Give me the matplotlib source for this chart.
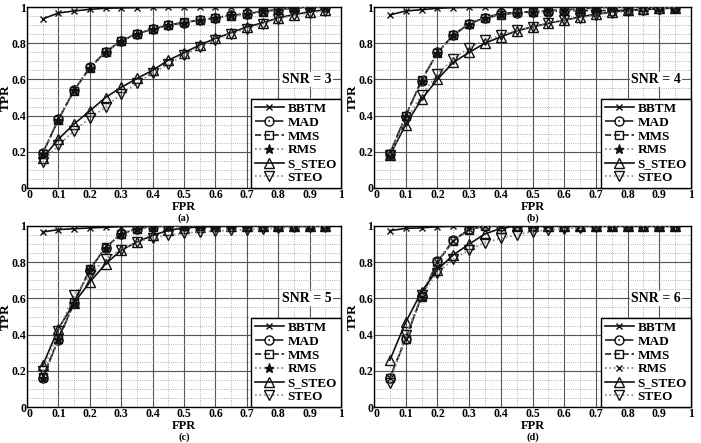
import numpy as np
import matplotlib
matplotlib.use("Agg")
import matplotlib.pyplot as plt
from matplotlib.ticker import MultipleLocator, FuncFormatter

plt.rcParams['font.family'] = ['Liberation Serif', 'DejaVu Serif']
plt.rcParams['font.weight'] = 'bold'
plt.rcParams['axes.labelweight'] = 'bold'

# -------------------------------
# data
# -------------------------------
fpr = [0.05, 0.10, 0.15, 0.20, 0.25, 0.30, 0.35, 0.40, 0.45, 0.50,
       0.55, 0.60, 0.65, 0.70, 0.75, 0.80, 0.85, 0.90, 0.95]

methods = ["BBTM", "MAD", "MMS", "RMS", "S_STEO", "STEO"]
snr_values = [3, 4, 5, 6]
panel_tags = ["(a)", "(b)", "(c)", "(d)"]

# SNR = 3
bbtm_3 = [0.934, 0.967, 0.978, 0.987, 0.993, 0.995, 0.997, 0.998, 0.999, 1.0,
          1.0, 1.0, 1.0, 1.0, 1.0, 1.0, 1.0, 1.0, 1.0]
mad_3 = [0.193, 0.380, 0.540, 0.666, 0.752, 0.813, 0.853, 0.877, 0.900, 0.914,
         0.927, 0.940, 0.954, 0.963, 0.976, 0.985, 0.996, 1.0, 1.0]
mms_3 = [0.190, 0.378, 0.538, 0.664, 0.750, 0.812, 0.852, 0.878, 0.899, 0.915,
         0.928, 0.941, 0.953, 0.964, 0.975, 0.986, 0.995, 1.0, 1.0]
rms_3 = [0.188, 0.377, 0.539, 0.665, 0.751, 0.812, 0.853, 0.877, 0.900, 0.914,
         0.928, 0.940, 0.954, 0.963, 0.976, 0.985, 0.996, 1.0, 1.0]
ssteo_3 = [0.165, 0.270, 0.354, 0.426, 0.500, 0.556, 0.605, 0.650, 0.706, 0.747,
           0.790, 0.826, 0.858, 0.890, 0.912, 0.940, 0.958, 0.973, 0.985]
steo_3 = [0.143, 0.235, 0.317, 0.385, 0.446, 0.520, 0.578, 0.637, 0.683, 0.734,
          0.780, 0.820, 0.853, 0.880, 0.908, 0.936, 0.954, 0.967, 0.980]

# SNR = 4
bbtm_4 = [0.956, 0.978, 0.985, 0.993, 0.997, 0.999, 1.0, 1.0, 1.0, 1.0,
          1.0, 1.0, 1.0, 1.0, 1.0, 1.0, 1.0, 1.0, 1.0]
mad_4 = [0.190, 0.400, 0.593, 0.749, 0.844, 0.908, 0.941, 0.965, 0.969, 0.972,
         0.975, 0.978, 0.980, 0.980, 0.980, 0.982, 0.985, 0.990, 0.995]
mms_4 = [0.188, 0.398, 0.595, 0.747, 0.845, 0.907, 0.940, 0.955, 0.970, 0.975,
         0.980, 0.985, 0.990, 0.995, 1.0, 1.0, 1.0, 1.0, 1.0]
rms_4 = [0.185, 0.396, 0.592, 0.748, 0.843, 0.908, 0.941, 0.960, 0.969, 0.974,
         0.978, 0.983, 0.987, 0.993, 0.996, 0.998, 1.0, 1.0, 1.0]
ssteo_4 = [0.180, 0.350, 0.490, 0.600, 0.694, 0.749, 0.800, 0.835, 0.868, 0.890,
           0.910, 0.927, 0.945, 0.960, 0.972, 0.982, 0.987, 0.993, 0.996]
steo_4 = [0.182, 0.370, 0.515, 0.630, 0.712, 0.776, 0.816, 0.844, 0.871, 0.890,
          0.910, 0.927, 0.941, 0.956, 0.969, 0.978, 0.987, 0.993, 0.996]

# SNR = 5
bbtm_5 = [0.967, 0.980, 0.985, 0.989, 0.993, 0.997, 0.999, 1.0, 1.0, 1.0,
          1.0, 1.0, 1.0, 1.0, 1.0, 1.0, 1.0, 1.0, 1.0]
mad_5 = [0.160, 0.372, 0.575, 0.759, 0.880, 0.958, 0.985, 0.996, 1.0, 1.0,
         1.0, 1.0, 1.0, 1.0, 1.0, 1.0, 1.0, 1.0, 1.0]
mms_5 = [0.165, 0.375, 0.578, 0.762, 0.882, 0.955, 0.986, 0.997, 1.0, 1.0,
         1.0, 1.0, 1.0, 1.0, 1.0, 1.0, 1.0, 1.0, 1.0]
rms_5 = [0.158, 0.373, 0.576, 0.760, 0.880, 0.957, 0.985, 0.996, 1.0, 1.0,
         1.0, 1.0, 1.0, 1.0, 1.0, 1.0, 1.0, 1.0, 1.0]
ssteo_5 = [0.230, 0.433, 0.575, 0.690, 0.790, 0.866, 0.912, 0.948, 0.976, 0.989,
           0.995, 0.998, 1.0, 1.0, 1.0, 1.0, 1.0, 1.0, 1.0]
steo_5 = [0.200, 0.420, 0.617, 0.727, 0.820, 0.870, 0.912, 0.935, 0.948, 0.961,
          0.967, 0.972, 0.976, 0.980, 0.985, 0.989, 0.993, 0.994, 0.996]

# SNR = 6
bbtm_6 = [0.974, 0.987, 0.990, 0.996, 0.999, 1.0, 1.0, 1.0, 1.0, 1.0,
          1.0, 1.0, 1.0, 1.0, 1.0, 1.0, 1.0, 1.0, 1.0]
mad_6 = [0.160, 0.376, 0.611, 0.804, 0.920, 0.982, 1.0, 1.0, 1.0, 1.0,
         1.0, 1.0, 1.0, 1.0, 1.0, 1.0, 1.0, 1.0, 1.0]
mms_6 = [0.162, 0.378, 0.608, 0.800, 0.918, 0.980, 1.0, 1.0, 1.0, 1.0,
         1.0, 1.0, 1.0, 1.0, 1.0, 1.0, 1.0, 1.0, 1.0]
rms_6 = [0.158, 0.375, 0.610, 0.802, 0.919, 0.981, 1.0, 1.0, 1.0, 1.0,
         1.0, 1.0, 1.0, 1.0, 1.0, 1.0, 1.0, 1.0, 1.0]
ssteo_6 = [0.259, 0.468, 0.638, 0.758, 0.840, 0.900, 0.956, 0.987, 1.0, 1.0,
           1.0, 1.0, 1.0, 1.0, 1.0, 1.0, 1.0, 1.0, 1.0]
steo_6 = [0.134, 0.400, 0.620, 0.740, 0.817, 0.868, 0.908, 0.932, 0.950, 0.969,
          0.978, 0.985, 0.990, 0.996, 1.0, 1.0, 1.0, 1.0, 1.0]

panels = [
    [bbtm_3, mad_3, mms_3, rms_3, ssteo_3, steo_3],
    [bbtm_4, mad_4, mms_4, rms_4, ssteo_4, steo_4],
    [bbtm_5, mad_5, mms_5, rms_5, ssteo_5, steo_5],
    [bbtm_6, mad_6, mms_6, rms_6, ssteo_6, steo_6],
]

# line style per method: (linestyle, marker, line colour, marker size, face)
styles = {
    "BBTM":   ("-",  "x", "#111111", 5,   "none"),
    "MAD":    ("-.", "o", "#222222", 6.5, "none"),
    "MMS":    ("--", "s", "#222222", 5.5, "none"),
    "RMS":    (":",  "*", "#777777", 6.5, "#111111"),
    "S_STEO": ("-",  "^", "#111111", 6.5, "none"),
    "STEO":   (":",  "v", "#888888", 6.5, "none"),
}

# -------------------------------
# figure
# -------------------------------
fig = plt.figure(figsize=(7.01, 4.43), dpi=100)

W, H = 701.0, 443.0
boxes = [(27, 7, 341, 188), (374, 7, 691, 188),
         (27, 226, 341, 407), (374, 226, 691, 407)]

fmt = FuncFormatter(lambda v, p: "%g" % round(v, 2))
axes = []

for i, (x0, y0, x1, y1) in enumerate(boxes):
    ax = fig.add_axes([x0 / W, 1 - y1 / H, (x1 - x0) / W, (y1 - y0) / H])
    axes.append(ax)
    aw, ah = x1 - x0, y1 - y0

    for name, vals in zip(methods, panels[i]):
        ls, mk, col, ms, face = styles[name]
        if name == "RMS" and i == 3:
            mk, ms, face = "x", 5, "none"
        ax.plot(fpr, vals, linestyle=ls, marker=mk, color=col, lw=1.2,
                markersize=ms, markerfacecolor=face,
                markeredgecolor="#111111", markeredgewidth=1.0,
                label=name, zorder=3)

    ax.set_xlim(0, 1)
    ax.set_ylim(0, 1)
    ax.xaxis.set_major_locator(MultipleLocator(0.1))
    ax.yaxis.set_major_locator(MultipleLocator(0.2))
    ax.xaxis.set_minor_locator(MultipleLocator(0.05))
    ax.yaxis.set_minor_locator(MultipleLocator(0.05))
    ax.xaxis.set_major_formatter(fmt)
    ax.yaxis.set_major_formatter(fmt)
    ax.grid(which="major", color="#555555", lw=0.8, ls="-")
    ax.grid(which="minor", color="#999999", lw=0.6, ls=":")
    ax.set_axisbelow(True)
    ax.tick_params(which="both", direction="in", length=0, labelsize=8.5, pad=0.5)
    for s in ax.spines.values():
        s.set_linewidth(1.0)

    ax.set_xlabel("FPR", fontsize=9, va="center")
    ax.xaxis.set_label_coords(0.5, -19.0 / ah)
    ax.set_ylabel("TPR", fontsize=9.5, va="center")
    ax.yaxis.set_label_coords(-21.0 / aw, 0.5)
    ax.text(0.5, -30.5 / ah, panel_tags[i], transform=ax.transAxes,
            ha="center", va="center", fontsize=7.5)

    ax.text(0.89, 0.6, "SNR = %d" % snr_values[i], ha="center", va="center",
            fontsize=10, bbox=dict(facecolor="white", edgecolor="none", pad=1))

    leg = ax.legend(loc="lower right", fontsize=9.5, borderaxespad=0,
                    fancybox=False, framealpha=1, edgecolor="black",
                    handlelength=2.2, handletextpad=0.3, labelspacing=0.12,
                    borderpad=0.3)
    leg.get_frame().set_linewidth(1.0)

# the two "0" labels at the origin: keep the x one clear of the y one
fig.canvas.draw()
for ax in axes:
    for t in ax.get_xticklabels():
        if t.get_text() == "0":
            t.set_horizontalalignment("left")

fig.savefig("out.png", dpi=100)
